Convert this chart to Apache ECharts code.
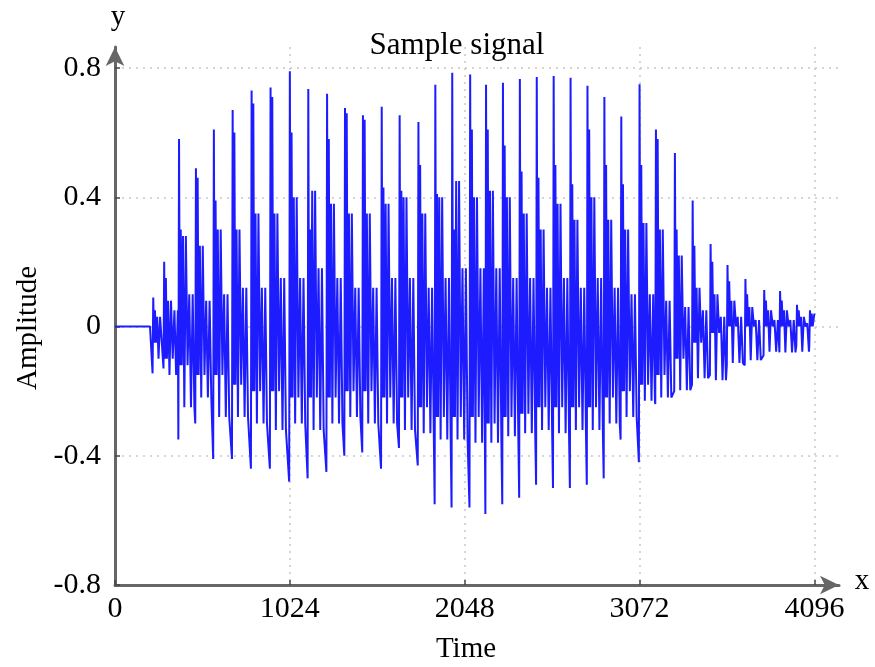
<!DOCTYPE html>
<html>
<head>
<meta charset="utf-8">
<title>Sample signal</title>
<script src="https://cdn.jsdelivr.net/npm/echarts@6/dist/echarts.min.js"></script>
<style>
  html, body { margin: 0; padding: 0; background: #fff; }
  #chart { width: 875px; height: 667px; }
</style>
</head>
<body>
<div id="chart"></div>
<script>
// 每个声门脉冲的位置 (采样点)
var pulseT = [224, 288, 375, 474, 579, 689, 800, 911, 1024, 1132, 1242, 1347, 1452, 1562, 1667, 1777, 1876, 1975,
  2080, 2173, 2272, 2371, 2470, 2569, 2668, 2767, 2866, 2965, 3072, 3168, 3279, 3383, 3488, 3587, 3692, 3802, 3895, 3994, 4070];
// 主峰
var peakV = [0.09, 0.20, 0.58, 0.49, 0.61, 0.67, 0.73, 0.74, 0.79, 0.735, 0.72, 0.676, 0.654, 0.68, 0.654, 0.633, 0.748, 0.785,
  0.78, 0.748, 0.754, 0.766, 0.772, 0.775, 0.77, 0.745, 0.71, 0.65, 0.75, 0.61, 0.537, 0.39, 0.255, 0.19, 0.147, 0.113, 0.11, 0.067, 0.05];
// 主峰旁的谷
var troughV = [-0.145, -0.13, -0.35, -0.30, -0.41, -0.41, -0.44, -0.44, -0.48, -0.47, -0.45, -0.40, -0.39, -0.44, -0.376, -0.43, -0.55, -0.56,
  -0.56, -0.58, -0.55, -0.53, -0.49, -0.50, -0.50, -0.49, -0.47, -0.35, -0.42, -0.24, -0.20, -0.18, -0.15, -0.12, -0.12, -0.09, -0.08, -0.06, -0.06];
// 第二个峰
var secV = [0.05, 0.15, 0.30, 0.46, 0.39, 0.60, 0.69, 0.71, 0.60, 0.30, 0.58, 0.66, 0.64, 0.43, 0.42, 0.50, 0.41, 0.30,
  0.61, 0.61, 0.56, 0.48, 0.46, 0.50, 0.44, 0.61, 0.50, 0.44, 0.50, 0.58, 0.30, 0.25, 0.20, 0.14, 0.10, 0.08, 0.08, 0.05, 0.04];
// 周期内的振荡
var hiV = [0.03, 0.08, 0.28, 0.25, 0.30, 0.30, 0.35, 0.35, 0.40, 0.42, 0.38, 0.35, 0.35, 0.38, 0.40, 0.35, 0.40, 0.45,
  0.40, 0.42, 0.40, 0.35, 0.30, 0.38, 0.33, 0.40, 0.33, 0.30, 0.32, 0.30, 0.22, 0.12, 0.10, 0.08, 0.06, 0.05, 0.05, 0.03, 0.03];
var loV = [-0.05, -0.10, -0.12, -0.15, -0.15, -0.18, -0.20, -0.20, -0.22, -0.22, -0.22, -0.20, -0.20, -0.22, -0.22, -0.25, -0.28, -0.28,
  -0.28, -0.30, -0.28, -0.27, -0.25, -0.25, -0.25, -0.25, -0.22, -0.20, -0.18, -0.15, -0.10, -0.05, -0.02, 0.0, 0.0, 0.0, 0.0, 0.0, 0.0];
var hi2V = [0.02, 0.05, 0.10, 0.08, 0.10, 0.12, 0.12, 0.15, 0.15, 0.18, 0.15, 0.12, 0.12, 0.15, 0.15, 0.12, 0.15, 0.18,
  0.18, 0.18, 0.15, 0.15, 0.12, 0.15, 0.12, 0.15, 0.12, 0.10, 0.10, 0.08, 0.06, 0.05, 0.03, 0.03, 0.02, 0.02, 0.02, 0.01, 0.02];
var lo2V = [-0.10, -0.15, -0.25, -0.22, -0.28, -0.28, -0.30, -0.32, -0.30, -0.32, -0.30, -0.28, -0.30, -0.30, -0.32, -0.33, -0.35, -0.35,
  -0.36, -0.36, -0.34, -0.33, -0.32, -0.33, -0.32, -0.32, -0.30, -0.28, -0.23, -0.22, -0.197, -0.16, -0.166, -0.113, -0.104, -0.078, -0.08, -0.078, -0.03];
var endV = 0.04;
// 一个周期内各点相对主峰的偏移 (采样点)
var shapeOffsets = [-4, 0, 5, 10, 16, 23, 31, 40, 50, 60, 70, 80, 90];

var xTicks = { min: 0, max: 4240, step: 1024 };
var yTicks = { min: -0.8, max: 0.865, step: 0.4 };

var points = [[0, 0], [205, 0]];
for (var i = 0; i < pulseT.length; i++) {
  var vals = [troughV[i], peakV[i], loV[i], secV[i], loV[i], hiV[i], lo2V[i], hiV[i], loV[i], hi2V[i], lo2V[i], hi2V[i], lo2V[i]];
  var next = i + 1 < pulseT.length ? pulseT[i + 1] - 4 : 4096;
  for (var k = 0; k < shapeOffsets.length; k++) {
    var t = pulseT[i] + shapeOffsets[k];
    if (k > 1 && t >= next) break;
    points.push([t, vals[k]]);
  }
}
points.push([4096, endV]);

var serif = '"Liberation Serif", "Times New Roman", serif';
var chart = echarts.init(document.getElementById('chart'));

var option = {
  animation: false,
  backgroundColor: '#fff',
  title: {
    text: 'Sample signal',
    left: 452,
    top: 25,
    textAlign: 'center',
    textStyle: { fontFamily: serif, fontSize: 31, fontWeight: 'normal', color: '#000' }
  },
  grid: { left: 115, right: 36, top: 47, bottom: 82 },
  xAxis: {
    type: 'value',
    min: xTicks.min,
    max: xTicks.max,
    interval: xTicks.step,
    axisLine: {
      onZero: false,
      symbol: ['none', 'arrow'],
      symbolSize: [14, 19],
      lineStyle: { color: '#666', width: 3 }
    },
    axisTick: { inside: true, length: 5, lineStyle: { color: '#444', width: 1.5 } },
    axisLabel: {
      showMaxLabel: false,
      margin: 9,
      formatter: function (v) { return String(v); },
      fontFamily: serif, fontSize: 30, color: '#000'
    },
    splitLine: {
      show: true, showMinLine: false, showMaxLine: false,
      lineStyle: { color: '#c8c8c8', type: [2, 5], width: 1.5 }
    }
  },
  yAxis: {
    type: 'value',
    min: yTicks.min,
    max: yTicks.max,
    interval: yTicks.step,
    axisLine: {
      onZero: false,
      symbol: ['none', 'arrow'],
      symbolSize: [14, 19],
      lineStyle: { color: '#666', width: 3 }
    },
    axisTick: { inside: true, length: 5, lineStyle: { color: '#444', width: 1.5 } },
    axisLabel: {
      showMaxLabel: false,
      margin: 14,
      fontFamily: serif, fontSize: 30, color: '#000'
    },
    splitLine: {
      show: true, showMinLine: false, showMaxLine: false,
      lineStyle: { color: '#c8c8c8', type: [2, 5], width: 1.5 }
    }
  },
  graphic: [
    { type: 'text', x: 118, y: 17, style: { text: 'y', font: '29px ' + serif, fill: '#000', align: 'center', verticalAlign: 'middle' } },
    { type: 'text', x: 862, y: 581, style: { text: 'x', font: '29px ' + serif, fill: '#000', align: 'center', verticalAlign: 'middle' } },
    { type: 'text', x: 466, y: 649, style: { text: 'Time', font: '29px ' + serif, fill: '#000', align: 'center', verticalAlign: 'middle' } },
    { type: 'text', x: 28, y: 328, rotation: Math.PI / 2, style: { text: 'Amplitude', font: '29px ' + serif, fill: '#000', align: 'center', verticalAlign: 'middle' } }
  ],
  series: [{
    type: 'line',
    data: points,
    showSymbol: false,
    sampling: 'none',
    lineStyle: { color: '#1c1cff', width: 2 },
    z: 3
  }]
};
chart.setOption(option);
</script>
</body>
</html>
